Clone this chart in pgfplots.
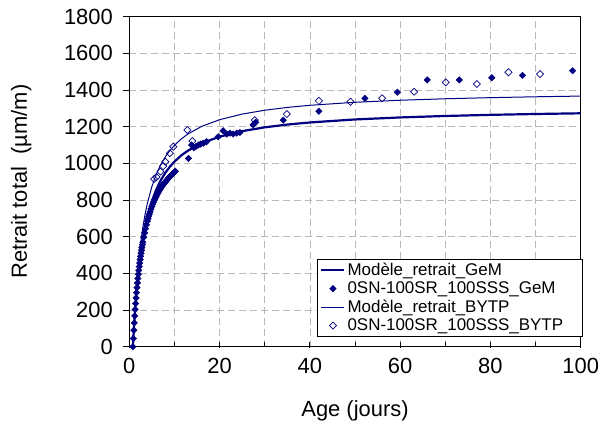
\documentclass[border=0pt]{standalone}
\usepackage{fontspec}
\setmainfont{Liberation Sans}
\usepackage{pgfplots}
\pgfplotsset{compat=1.18}
\definecolor{navy}{RGB}{0,0,128}

\pgfplotsset{
  linelegend/.style={legend image code/.code={\draw[##1] (0bp,0bp) -- (23bp,0bp);}},
  marklegend/.style={legend image code/.code={\draw[##1] plot coordinates {(11.5bp,0bp)};}},
}
% fixed-width legend text so the box keeps its right-hand margin
\newcommand{\entry}[1]{\makebox[230bp][l]{#1}}

\begin{document}
\begin{tikzpicture}
\path[use as bounding box] (-129.3bp,-78.3bp) rectangle (473.7bp,346.7bp);
\begin{axis}[
  at={(0,0)}, anchor=south west,
  scale only axis, width=451.4bp, height=330bp,
  xmin=0, xmax=100, ymin=0, ymax=1800,
  xtick={0,20,...,100}, ytick={0,200,...,1800},
  minor x tick num=1,
  xtick pos=bottom, ytick pos=left,
  tick align=outside,
  major tick length=6bp, minor tick length=5bp,
  major x tick style={yshift=5bp},
  minor x tick style={yshift=5bp},
  tick style={black, line width=0.8bp},
  axis line style={black, line width=0.8bp},
  grid=both,
  major grid style={gray!55, dash pattern=on 7bp off 4bp, line width=0.7bp},
  minor grid style={gray!55, dash pattern=on 7bp off 4bp, line width=0.7bp},
  /pgf/number format/assume math mode=true,
  /pgf/number format/1000 sep={},
  ticklabel style={font=\fontsize{22}{26}\selectfont},
  yticklabel style={xshift=-7bp},
  xticklabel style={yshift=-2bp},
  xlabel={Age (jours)},
  ylabel={Retrait total~~(µm/m)},
  label style={font=\fontsize{22}{26}\selectfont},
  xlabel style={at={(axis description cs:0.5,-0.194)}, anchor=center},
  ylabel style={at={(axis description cs:-0.2393,0.5)}, anchor=center},
  legend style={at={(axis description cs:1.005,0.266)}, anchor=north east,
    draw=black, line width=0.8bp, fill=white,
    font=\fontsize{17}{19.5}\selectfont,
    cells={anchor=west}, inner xsep=3bp, inner ysep=2bp, row sep=0.8bp},
]

% GeM shrinkage model
\addplot[navy, line width=2.2bp, linelegend] coordinates {
  (0.8,0) (1,89.6) (1.25,185.7) (1.5,267.7) (2,400.4) (2.5,503.1) (3,584.9)
  (3.5,651.6) (4,707.0) (5,793.9) (6,858.8) (7,909.2) (8,949.4) (9,982.2)
  (10,1009.5) (11.5,1042.9) (13,1069.5) (16,1109.5) (20,1145.7) (25,1175.8)
  (30,1196.5) (35,1211.6) (40,1223.1) (50,1239.5) (60,1250.5) (70,1258.5)
  (80,1264.6) (90,1269.3) (100,1273.1)
};
\addlegendentry{\entry{Modèle\_retrait\_GeM}}

% GeM measurements
\addplot[navy, only marks, mark=square*, mark size=2.3bp,
  mark options={rotate=45, fill=navy, line width=0.4bp}, marklegend] coordinates {
  (0.8,0) (0.9,45) (1.0,90) (1.1,130) (1.2,168) (1.3,203) (1.4,236) (1.5,266)
  (1.6,295) (1.7,322) (1.8,348) (1.9,372) (2.0,395) (2.1,416) (2.2,437) (2.3,456)
  (2.4,475) (2.5,493) (2.6,510) (2.7,526) (2.8,541) (2.9,556) (3.0,570) (3.2,597)
  (3.4,621) (3.6,644) (3.8,665) (4.0,685) (4.15,699) (4.3,712) (4.45,724) (4.6,736)
  (4.8,751) (5.0,765) (5.2,778) (5.4,790) (5.6,801) (5.8,812) (6.0,822) (6.2,832)
  (6.4,841) (6.6,850) (6.8,858) (7.0,866) (7.2,873) (7.4,880) (7.6,887) (7.8,893)
  (8.0,899) (8.2,905) (8.4,911) (8.6,917) (8.8,923) (9.0,928) (9.2,933) (9.4,938)
  (9.6,943) (9.8,948) (10.0,953) (10.2,957)
  (13.1,1027) (13.8,1100) (14.3,1085) (14.8,1093) (15.3,1100) (15.8,1105)
  (16.4,1110) (17.1,1118) (19.7,1145) (20.8,1178) (21.6,1160) (22.3,1165)
  (23.0,1160) (23.8,1165) (24.5,1168) (27.4,1210) (28.0,1224) (34.1,1236)
  (42.0,1284) (52.2,1355) (59.4,1388) (66.0,1455) (73.1,1455) (80.3,1467)
  (87.1,1480) (98.2,1505)
};
\addlegendentry{\entry{0SN-100SR\_100SSS\_GeM}}

% BYTP shrinkage model
\addplot[navy, line width=1bp, linelegend] coordinates {
  (0.8,0) (1,102.3) (1.25,211.0) (1.5,302.9) (2,449.8) (2.5,562.1) (3,650.7)
  (3.5,722.4) (4,781.6) (5,873.6) (6,941.9) (7,994.5) (8,1036.4) (9,1070.4)
  (10,1098.7) (11.5,1133.0) (13,1160.4) (16,1201.3) (20,1238.2) (25,1268.8)
  (30,1289.8) (35,1305.1) (40,1316.7) (50,1333.2) (60,1344.3) (70,1352.3)
  (80,1358.4) (90,1363.2) (100,1367.0)
};
\addlegendentry{\entry{Modèle\_retrait\_BYTP}}

% BYTP measurements
\addplot[navy, only marks, mark=square, mark size=2.5bp,
  mark options={rotate=45, line width=0.7bp}, marklegend] coordinates {
  (5.5,915) (6.0,925) (6.9,955) (7.5,985) (8.0,1009) (9.0,1055) (9.75,1091)
  (12.85,1182) (13.96,1122) (27.8,1236) (34.9,1269) (42.0,1341) (49.0,1336)
  (56.0,1355) (63.1,1391) (70.1,1442) (77.0,1433) (84.0,1497) (91.0,1487)
};
\addlegendentry{\entry{0SN-100SR\_100SSS\_BYTP}}

\end{axis}
\end{tikzpicture}
\end{document}
